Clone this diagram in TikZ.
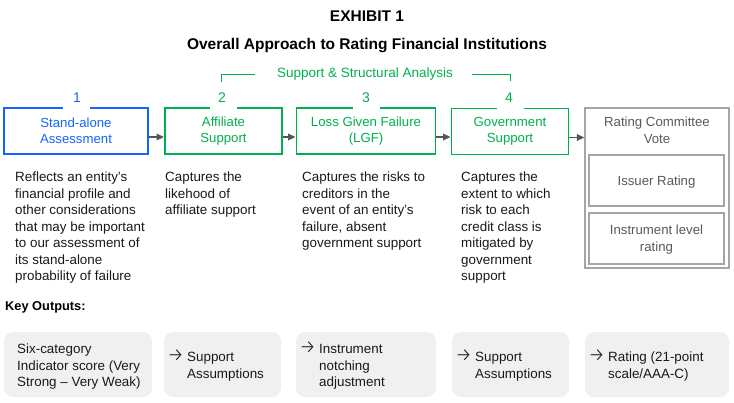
\documentclass[tikz,border=0pt]{standalone}
\usepackage{fontspec}
\setmainfont{Liberation Sans}
\newfontfamily\arrowfont{Fira Sans Light}
\usetikzlibrary{arrows.meta}
\definecolor{mblue}{RGB}{20,100,255}
\definecolor{mgreen}{RGB}{0,176,80}
\definecolor{mgray}{RGB}{165,165,165}
\definecolor{mtext}{RGB}{25,25,25}
\definecolor{mfill}{RGB}{240,240,240}
\definecolor{marrow}{RGB}{85,85,85}
\begin{document}
\begin{tikzpicture}[x=1pt,y=-1pt,
  txt/.style={font=\fontsize{13.4}{16.5}\selectfont, text=mtext, align=left, anchor=north west, inner sep=0pt},
  boxtxt/.style={font=\fontsize{13.2}{16.5}\selectfont, align=center},
  bluebox/.style={boxtxt, draw=mblue, line width=1.8pt, text=mblue, minimum height=46pt},
  greenbox/.style={boxtxt, draw=mgreen, line width=1.8pt, text=mgreen, minimum height=46pt},
  graybox/.style={draw=mgray, line width=1.3pt},
  graytxt/.style={boxtxt, text=black!65},
  numlbl/.style={font=\fontsize{14}{16}\selectfont, inner sep=0pt},
  gapfill/.style={fill=white, minimum width=27pt, minimum height=5pt, inner sep=0pt},
  flow/.style={draw=marrow, line width=1.4pt, -{Triangle[length=7.5pt,width=6.5pt]}},
  outbox/.style={fill=mfill, rounded corners=9pt, draw=none},
  brack/.style={draw=mgreen, line width=1pt},
  arr/.style={text=mtext, inner sep=0pt, anchor=west, font=\arrowfont\fontsize{19}{20}\selectfont},
]
\useasboundingbox (0,0) rectangle (734,402);

% titles
\node[font=\bfseries\fontsize{15.5}{18}\selectfont] (t1) at (367,16) {EXHIBIT 1};
\node[font=\bfseries\fontsize{15.5}{18}\selectfont] (t2) at (367,46) {Overall Approach to Rating Financial Institutions};

% bracket
\node[font=\fontsize{13.5}{15}\selectfont, text=mgreen] (sa) at (365,74) {Support \& Structural Analysis};
\coordinate (bl1) at (221,82);
\coordinate (bl2) at (255,74);
\coordinate (br1) at (472,74);
\coordinate (br2) at (510,81);
\draw[brack] (bl1) |- (bl2);
\draw[brack] (br1) -| (br2);

% main boxes
\node[bluebox, minimum width=144pt] (b1) at (76,131) {Stand-alone\\Assessment};
\node[greenbox, minimum width=117pt] (b2) at (223.5,131) {Affiliate\\Support};
\node[greenbox, minimum width=139pt] (b3) at (366,131) {Loss Given Failure\\(LGF)};
\node[greenbox, minimum width=117pt] (b4) at (510,131.5) {Government\\Support};

% gaps + numbers
\node[gapfill] (g1) at (b1.north) {};
\node[gapfill] (g2) at (b2.north) {};
\node[gapfill] (g3) at (b3.north) {};
\node[gapfill] (g4) at (b4.north) {};
\node[numlbl, text=mblue] (n1) at (77,97.5) {1};
\node[numlbl, text=mgreen] (n2) at (222,97.5) {2};
\node[numlbl, text=mgreen] (n3) at (366,97.5) {3};
\node[numlbl, text=mgreen] (n4) at (509,97.5) {4};

% rating committee
\node[graybox, minimum width=144pt, minimum height=160pt] (rc) at (657,188) {};
\node[graytxt] (rct) at (657,130.5) {Rating Committee\\Vote};
\node[graybox, minimum width=135pt, minimum height=51pt] (ir) at (656.5,180.5) {};
\node[graytxt] (irt) at (656.5,182.5) {Issuer Rating};
\node[graybox, minimum width=135pt, minimum height=51pt] (il) at (656.5,238.5) {};
\node[graytxt] (ilt) at (656.5,239.5) {Instrument level\\rating};

% arrows
\draw[flow] ([yshift=-6pt]b1.east) -- ([yshift=-6pt]b1.east -| b2.west);
\draw[flow] ([yshift=-6pt]b2.east) -- ([yshift=-6pt]b2.east -| b3.west);
\draw[flow] ([yshift=-6pt]b3.east) -- ([yshift=-6pt]b3.east -| b4.west);
\draw[flow] ([yshift=-6pt]b4.east) -- ([yshift=-6pt]b4.east -| rc.west);

% descriptions
\node[txt] (d1) at (15,170) {\strut Reflects an entity’s\\financial profile and\\other considerations\\that may be important\\to our assessment of\\its stand-alone\\probability of failure};
\node[txt] (d2) at (165,170) {\strut Captures the\\likehood of\\affiliate support};
\node[txt] (d3) at (302,170) {\strut Captures the risks to\\creditors in the\\event of an entity’s\\failure, absent\\government support};
\node[txt] (d4) at (461,170) {\strut Captures the\\extent to which\\risk to each\\credit class is\\mitigated by\\government\\support};

% key outputs
\node[font=\bfseries\fontsize{12.8}{15}\selectfont, anchor=west, inner sep=0pt] (ko) at (5,307) {Key Outputs:};

\node[outbox, minimum width=148pt, minimum height=65pt] (o1) at (78,364.5) {};
\node[outbox, minimum width=117pt, minimum height=65pt] (o2) at (222.5,364.5) {};
\node[outbox, minimum width=140pt, minimum height=65pt] (o3) at (366,364.5) {};
\node[outbox, minimum width=117pt, minimum height=65pt] (o4) at (510.5,364.5) {};
\node[outbox, minimum width=144pt, minimum height=65pt] (o5) at (657,364.5) {};

\node[txt] (ot1) at (17,342) {\strut Six-category\\Indicator score (Very\\Strong -- Very Weak)};
\node[txt] (ot2) at (187,350) {\strut Support\\Assumptions};
\node[txt] (ot3) at (319,342) {\strut Instrument\\notching\\adjustment};
\node[txt] (ot4) at (475,350) {\strut Support\\Assumptions};
\node[txt] (ot5) at (608,350) {\strut Rating (21-point\\scale/AAA-C)};
\node[arr] (oa2) at (167,355.5) {→};
\node[arr] (oa3) at (299,347.5) {→};
\node[arr] (oa4) at (455,355.5) {→};
\node[arr] (oa5) at (588,355.5) {→};
\end{tikzpicture}
\end{document}
